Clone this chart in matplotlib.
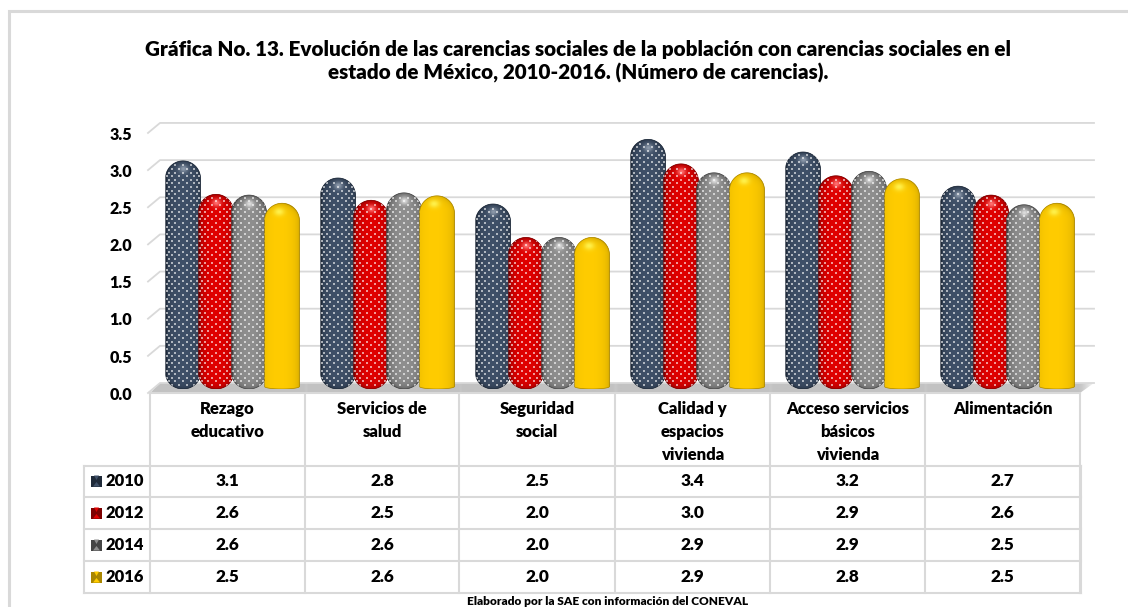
import numpy as np
import matplotlib
matplotlib.use('Agg')
import matplotlib.pyplot as plt
from matplotlib.colors import to_rgb
from matplotlib.path import Path
from matplotlib.patches import Polygon, Rectangle
from matplotlib.transforms import ScaledTranslation

plt.rcParams['font.family'] = ['Lato', 'DejaVu Sans']
plt.rcParams['font.weight'] = 800

titulo = ('Gráfica No. 13. Evolución de las carencias sociales de la población con carencias sociales en el\n'
          'estado de México, 2010-2016. (Número de carencias).')
fuente = 'Elaborado por la SAE con información del CONEVAL'
categorias = ['Rezago\neducativo', 'Servicios de\nsalud', 'Seguridad\nsocial',
              'Calidad y\nespacios\nvivienda', 'Acceso servicios\nbásicos\nvivienda', 'Alimentación']
anios = ['2010', '2012', '2014', '2016']

v2010 = [3.07, 2.84, 2.49, 3.36, 3.19, 2.73]
v2012 = [2.62, 2.54, 2.04, 3.03, 2.87, 2.61]
v2014 = [2.61, 2.64, 2.04, 2.91, 2.93, 2.48]
v2016 = [2.50, 2.60, 2.04, 2.91, 2.83, 2.50]
series = [v2010, v2012, v2014, v2016]
ticks = [0.0, 0.5, 1.0, 1.5, 2.0, 2.5, 3.0, 3.5]

# centro, borde, brillo de cada serie
colores = [('#3f5068', '#1f2a39', '#8c99aa'),
           ('#e00000', '#7d0000', '#ff7070'),
           ('#8f8f8f', '#454545', '#dcdcdc'),
           ('#ffcc00', '#a98600', '#fff04a')]
gris = '#d9d9d9'

W, H = 1128, 607
PX_UNIDAD = 74.3
Y0 = 389
X_COL = [150, 305, 459, 615, 770, 925, 1080]
Y_FILA = [393, 465.5, 497, 529, 561, 592.5]

fig = plt.figure(figsize=(W / 100, H / 100), dpi=100)

# capa de fondo en pixeles: marco, rejilla, tabla y textos
marco = fig.add_axes([0, 0, 1, 1], zorder=1)
marco.set_xlim(0, W)
marco.set_ylim(H, 0)
marco.axis('off')

marco.plot([8.5, 8.5, W], [H, 10.5, 10.5], color=gris, lw=2.2, solid_joinstyle='miter')

# suelo con sombra bajo cada grupo
xs = np.arange(150, 1095)
sombra = np.zeros(len(xs))
for c in range(6):
    izq, der = X_COL[c] + 5, X_COL[c] + 152
    d = np.maximum(np.maximum(izq - xs, xs - der), 0)
    sombra = np.maximum(sombra, np.exp(-(d / 14.0) ** 2))
suelo = marco.imshow((1 - 0.24 * sombra)[None, :], cmap='gray', vmin=0, vmax=1, aspect='auto',
                     extent=(150, 1094, 393, 383), zorder=1)
suelo.set_clip_path(Path([(150, 393), (160, 383), (1094, 383), (1080, 393), (150, 393)]),
                    transform=marco.transData)
marco.set_xlim(0, W)
marco.set_ylim(H, 0)

for t in ticks:
    y = 383 - t * PX_UNIDAD
    marco.plot([148, 160, 1094], [y + 10, y, y], color=gris, lw=1.3, zorder=2)

# tabla
for x in X_COL:
    marco.plot([x, x], [Y_FILA[0], Y_FILA[-1]], color=gris, lw=1.5, zorder=2)
marco.plot([83.5, 83.5], [Y_FILA[1], Y_FILA[-1]], color=gris, lw=1.5, zorder=2)
marco.plot([1081, 1081], [Y_FILA[1], Y_FILA[-1]], color=gris, lw=1.5, zorder=2)
marco.plot([150, 1080], [Y_FILA[0], Y_FILA[0]], color=gris, lw=1.5, zorder=2)
for y in Y_FILA[1:]:
    marco.plot([83.5, 1081], [y, y], color=gris, lw=1.5, zorder=2)

for c, cat in enumerate(categorias):
    xc = (X_COL[c] + X_COL[c + 1]) / 2
    for n, linea in enumerate(cat.split('\n')):
        marco.text(xc, 409 + n * 23, linea, ha='center', va='center', fontsize=12.0, color='black')

for k, anio in enumerate(anios):
    yc = 481 + k * 32
    marco.text(105, yc, anio, ha='left', va='center', fontsize=11.9, color='black')
    for c in range(6):
        xc = (X_COL[c] + X_COL[c + 1]) / 2
        marco.text(xc, yc, '%.1f' % series[k][c], ha='center', va='center', fontsize=12.3, color='black')
    # clave de la leyenda
    centro, borde, brillo = colores[k]
    marco.add_patch(Rectangle((91, yc - 5.5), 11, 11, facecolor=borde, edgecolor='none', zorder=3))
    marco.add_patch(Polygon([(94, yc - 5.5), (99, yc - 5.5), (96.5, yc - 1)], facecolor=centro, edgecolor='none', zorder=4))
    marco.add_patch(Polygon([(93, yc + 5.5), (100, yc + 5.5), (96.5, yc + 1)], facecolor=centro, edgecolor='none', zorder=4))

marco.text(578, 61.5, titulo, ha='center', va='center', fontsize=14.9, linespacing=1.2, color='black')
marco.text(608, 601.5, fuente, ha='center', va='center', fontsize=8.6, color='black')


def capsula(x0, ancho, alto, r_abajo):
    # contorno de la barra: cupula arriba, y abajo cupula o borde casi plano
    rx = ancho / 2
    ry = rx * (X_ESC / PX_UNIDAD)
    ang = np.linspace(0, np.pi, 40)
    arriba = np.c_[x0 + rx + rx * np.cos(ang), alto - ry + ry * np.sin(ang)]
    ry2 = r_abajo / PX_UNIDAD
    abajo = np.c_[x0 + rx - rx * np.cos(ang), ry2 - ry2 * np.sin(ang)]
    return np.r_[arriba, abajo, arriba[:1]]


def sombreado(ancho_px, alto_px, r_abajo, color, dorado):
    centro, borde, brillo = [np.array(to_rgb(c)) for c in color]
    uu, yy = np.meshgrid(np.linspace(-1, 1, int(ancho_px)), np.arange(int(alto_px)) + 0.5)
    r = ancho_px / 2
    t = np.maximum(r - yy, 0) / r
    if r_abajo > 5:
        t = np.maximum(t, np.maximum(yy - (alto_px - r_abajo), 0) / r_abajo)
    if dorado:
        # la luz del cilindro amarillo viene de la izquierda
        uu = np.where(uu > -0.2, (uu + 0.2) / 1.2, (uu + 0.2) * 0.7 / 0.8)
    d = np.clip(np.sqrt(uu ** 2 + t ** 2), 0, 1)
    luz = np.sqrt(1 - d ** 2) ** (0.4 if dorado else 0.6)
    img = borde + (centro - borde) * luz[..., None]
    esp = np.exp(-(uu ** 2 / 0.07 + (t - 0.5) ** 2 / 0.05)) * (yy < r)
    return img + (brillo - img) * esp[..., None]


# barras sobre ejes propios
ax = fig.add_axes([155 / W, (H - Y0) / H, 930 / W, 3.5 * PX_UNIDAD / H], zorder=2)
ax.patch.set_alpha(0)
ax.set_xlim(-0.5, 5.5)
ax.set_ylim(0, 3.5)
X_ESC = 930 / 6
for s in ax.spines.values():
    s.set_visible(False)
ax.set_xticks([])
ax.set_yticks(ticks)
ax.set_yticklabels(['%.1f' % t for t in ticks], fontsize=11.6, color='black')
ax.tick_params(axis='y', length=0, pad=16.5)
for lab in ax.get_yticklabels():
    lab.set_transform(lab.get_transform() + ScaledTranslation(0, -3 / 72, fig.dpi_scale_trans))

ancho = 35 / X_ESC
paso = 33 / X_ESC
pos = np.arange(6)
for k, valores in enumerate(series):
    dorado = k == 3
    barras = ax.bar(pos + (k - 1.5) * paso, valores, ancho, color=colores[k][0], zorder=3 + k)
    for rect in barras:
        x0, w, h = rect.get_x(), rect.get_width(), rect.get_height()
        r_abajo = 2.5 if dorado else 16
        contorno = Path(capsula(x0, w, h, r_abajo))
        rect.set_clip_path(contorno, transform=ax.transData)
        img = sombreado(w * X_ESC, h * PX_UNIDAD, r_abajo, colores[k], dorado)
        im = ax.imshow(img, extent=(x0, x0 + w, 0, h), aspect='auto', interpolation='bilinear',
                       zorder=3 + k)
        im.set_clip_path(contorno, transform=ax.transData)
        ax.add_patch(Polygon(capsula(x0, w, h, r_abajo), closed=True, facecolor='none',
                             edgecolor=colores[k][1], lw=0.5, zorder=3 + k))
        if not dorado:
            # puntos blancos, mas juntos hacia los bordes del cilindro
            ang = np.radians(np.arange(-70, 71, 28))
            ang2 = np.radians(np.arange(-56, 57, 28))
            px, py = [], []
            for n, y in enumerate(np.arange(4, h * PX_UNIDAD - 2, 3.6)):
                fila = ang if n % 2 == 0 else ang2
                px.extend(x0 + w / 2 + np.sin(fila) * w / 2 * 0.97)
                py.extend([y / PX_UNIDAD] * len(fila))
            puntos = ax.scatter(px, py, s=0.9, c='white', alpha=0.6, linewidths=0, marker='s',
                                zorder=3 + k)
            puntos.set_clip_path(contorno, transform=ax.transData)
ax.set_xlim(-0.5, 5.5)
ax.set_ylim(0, 3.5)

fig.savefig('out.png', dpi=100, facecolor='white')
